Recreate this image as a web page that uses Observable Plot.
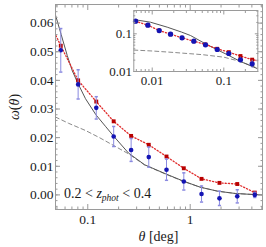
<!DOCTYPE html>
<html><head><meta charset="utf-8">
<script src="https://cdn.jsdelivr.net/npm/d3@7"></script>
<script src="https://cdn.jsdelivr.net/npm/@observablehq/plot@0.6"></script>
<style>
body{margin:0;background:#fff;}
#wrap{position:relative;width:266px;height:247px;overflow:hidden;}
#inset{position:absolute;left:100px;top:0;}
</style></head><body><div id="wrap"><div id="main"></div><div id="inset"></div></div>
<script>
// ---- main panel data ----
const thetaMain = [0.0545, 0.0805, 0.121, 0.179, 0.265, 0.394, 0.587, 0.866, 1.29, 1.93, 2.88, 4.27];
const redMain   = [0.0521, 0.0400, 0.0326, 0.0257, 0.0206, 0.0175, 0.0134, 0.0093, 0.0056, 0.0042, 0.0038, 0.0008];
const blueMain  = [0.0505, 0.0386, 0.0304, 0.0204, 0.0157, 0.0132, 0.0088, 0.0047, 0.0003, -0.0012, -0.0005, 0.0000];
const errMain   = [0.0076, 0.0051, 0.0039, 0.0035, 0.0040, 0.0035, 0.0037, 0.0030, 0.0028, 0.0025, 0.0023, 0.0009];
// red line continues from the previous (smaller-scale) measurement
const redLeadT = [0.0381];
const redLeadW = [0.0637];
const modelT = [0.0484, 0.055, 0.063, 0.0705, 0.08, 0.095, 0.12, 0.15, 0.18, 0.25, 0.36, 0.58, 0.86, 1.25, 1.85, 2.75, 4.3, 5.08];
const modelW = [0.0628, 0.0560, 0.0487, 0.0434, 0.0390, 0.0336, 0.0280, 0.0238, 0.0204, 0.0146, 0.0105, 0.0073, 0.0048, 0.0027, 0.0013, 0.0005, 0.0001, 0.0000];
const twoHaloT = [0.0484, 0.065, 0.095, 0.13, 0.18, 0.251, 0.36, 0.58, 0.86, 1.25, 1.85, 2.75, 4.3, 5.08];
const twoHaloW = [0.0272, 0.0250, 0.0225, 0.0200, 0.0172, 0.0143, 0.0104, 0.0072, 0.0047, 0.0027, 0.0013, 0.0005, 0.0001, 0.0000];
const yTicks = [0, 0.01, 0.02, 0.03, 0.04, 0.05, 0.06];
const yMinor = d3.range(-4, 67, 2).map(v => v / 1000);
const xTicks = [0.1, 1];
const xMinor = [0.05, 0.06, 0.07, 0.08, 0.09, 0.2, 0.3, 0.4, 0.5, 0.6, 0.7, 0.8, 0.9, 2, 3, 4, 5];

// ---- inset data ----
const thetaIn = [0.00585, 0.00869, 0.01253, 0.01803, 0.0261, 0.0381, 0.0555, 0.0809, 0.1175, 0.171, 0.249];
const blueIn  = [0.216, 0.169, 0.122, 0.0976, 0.0783, 0.0637, 0.0511, 0.0383, 0.0300, 0.0204, 0.0160];
const redIn   = [0.216, 0.169, 0.122, 0.0976, 0.0783, 0.0637, 0.0521, 0.0400, 0.0326, 0.0257, 0.0206];
const errIn   = [0.008, 0.006, 0.005, 0.004, 0.0035, 0.0035, 0.0035, 0.0035, 0.0035, 0.0035, 0.0040];
const redTailT = [0.394];
const redTailW = [0.0175];
const modelInT = [0.00553, 0.00946, 0.0162, 0.0257, 0.0343, 0.0555, 0.081, 0.1175, 0.171, 0.2985];
const modelInW = [0.239, 0.203, 0.150, 0.111, 0.090, 0.0543, 0.0377, 0.0266, 0.0184, 0.0118];
const twoHaloInT = [0.00553, 0.01, 0.02, 0.05, 0.1, 0.171, 0.2985];
const twoHaloInW = [0.0370, 0.0350, 0.0320, 0.0280, 0.0240, 0.0184, 0.0122];
const inTicks = [0.01, 0.1];
const inXMinor = [0.006, 0.007, 0.008, 0.009, 0.02, 0.03, 0.04, 0.05, 0.06, 0.07, 0.08, 0.09, 0.2];
const inYMinor = [0.02, 0.03, 0.04, 0.05, 0.06, 0.07, 0.08, 0.09, 0.2, 0.3, 0.4];

const zipTW = (T, W) => T.map((t, i) => ({t, w: W[i]}));
const mainPts = thetaMain.map((t, i) => ({t, r: redMain[i], b: blueMain[i], e: errMain[i]}));
const inPts = thetaIn.map((t, i) => ({t, r: redIn[i], b: blueIn[i], e: errIn[i]}));

const FONT = '"Liberation Serif", "DejaVu Serif", serif';
const RED = "#b80000", REDLINE = "#e02b2b", BLUE = "#1414b4", ERR = "#8a8ae0";
const MODEL = "#555", DASH = "#8a8a8a", FRAME = "#9a9a9a", TXT = "#1a1a1a";
const capSym = {draw(ctx) { ctx.moveTo(-1.6, 0); ctx.lineTo(1.6, 0); }};

function tickAxes(xt, xm, yt, ym, big, small, xfmt, yfmt, xpad, ypad) {
  return [
    Plot.axisY(ym, {anchor: "left", tickSize: -small, fill: "none", stroke: FRAME, label: null}),
    Plot.axisY(ym, {anchor: "right", tickSize: -small, fill: "none", stroke: FRAME, label: null}),
    Plot.axisY(yt, {anchor: "left", tickSize: -big, tickPadding: ypad, tickFormat: yfmt, stroke: FRAME, fill: TXT, label: null}),
    Plot.axisY(yt, {anchor: "right", tickSize: -big, fill: "none", stroke: FRAME, label: null}),
    Plot.axisX(xm, {anchor: "bottom", tickSize: -small, fill: "none", stroke: FRAME, label: null}),
    Plot.axisX(xm, {anchor: "top", tickSize: -small, fill: "none", stroke: FRAME, label: null}),
    Plot.axisX(xt, {anchor: "bottom", tickSize: -big, tickPadding: xpad, tickFormat: xfmt, stroke: FRAME, fill: TXT, label: null}),
    Plot.axisX(xt, {anchor: "top", tickSize: -big, fill: "none", stroke: FRAME, label: null}),
    Plot.frame({stroke: FRAME})
  ];
}

const main = Plot.plot({
  width: 266, height: 247,
  marginLeft: 55, marginRight: 4, marginTop: 4, marginBottom: 38,
  style: {fontFamily: FONT, fontSize: "13.5px", background: "white", color: TXT},
  x: {type: "log", domain: [0.0484, 5.08]},
  y: {domain: [-0.0051, 0.0665]},
  marks: [
    Plot.line(zipTW(twoHaloT, twoHaloW), {x: "t", y: "w", stroke: DASH, strokeWidth: 1, strokeDasharray: "4,3", clip: true}),
    Plot.line(zipTW(modelT, modelW), {x: "t", y: "w", stroke: MODEL, strokeWidth: 1, clip: true}),
    Plot.line(zipTW(redLeadT.concat(thetaMain), redLeadW.concat(redMain)), {x: "t", y: "w", stroke: REDLINE, strokeWidth: 1.3, strokeDasharray: "1.2,2", clip: true}),
    Plot.dot(mainPts, {x: "t", y: "r", symbol: "square", r: 2.2, fill: RED, stroke: "none"}),
    Plot.ruleX(mainPts, {x: "t", y1: d => d.b - d.e, y2: d => d.b + d.e, stroke: ERR, strokeWidth: 1}),
    Plot.dot(mainPts, {x: "t", y: d => d.b - d.e, symbol: capSym, stroke: ERR, fill: "none", r: 2}),
    Plot.dot(mainPts, {x: "t", y: d => d.b + d.e, symbol: capSym, stroke: ERR, fill: "none", r: 2}),
    Plot.dot(mainPts, {x: "t", y: "b", r: 2.3, fill: BLUE, stroke: "none"}),
    ...tickAxes(xTicks, xMinor, yTicks, yMinor, 5, 2.5, d3.format("~g"), d3.format(".2f"), 10, 7)
  ]
});
document.getElementById("main").appendChild(main);

const inset = Plot.plot({
  width: 166, height: 90,
  marginLeft: 33.3, marginRight: 8.7, marginTop: 10, marginBottom: 19,
  style: {fontFamily: FONT, fontSize: "13px", background: "transparent", color: TXT, overflow: "visible"},
  x: {type: "log", domain: [0.00553, 0.2985]},
  y: {type: "log", domain: [0.01, 0.415]},
  marks: [
    Plot.frame({fill: "white", stroke: "none"}),
    Plot.line(zipTW(twoHaloInT, twoHaloInW), {x: "t", y: "w", stroke: DASH, strokeWidth: 1, strokeDasharray: "4,3", clip: true}),
    Plot.line(zipTW(modelInT, modelInW), {x: "t", y: "w", stroke: MODEL, strokeWidth: 1, clip: true}),
    Plot.line(zipTW(thetaIn.concat(redTailT), redIn.concat(redTailW)), {x: "t", y: "w", stroke: REDLINE, strokeWidth: 1.3, strokeDasharray: "1.2,2", clip: true}),
    Plot.dot(inPts, {x: "t", y: "r", symbol: "square", r: 2.2, fill: RED, stroke: "none"}),
    Plot.ruleX(inPts, {x: "t", y1: d => d.b - d.e, y2: d => d.b + d.e, stroke: ERR, strokeWidth: 1}),
    Plot.dot(inPts, {x: "t", y: "b", r: 2.6, fill: BLUE, stroke: "none"}),
    ...tickAxes(inTicks, inXMinor, inTicks, inYMinor, 3.5, 2, d3.format("~g"), d3.format("~g"), 7.5, 5.2)
  ]
});
document.getElementById("inset").appendChild(inset);

// ---- text with mixed styles ----
const svg = d3.select(main);
const yl = svg.append("text")
  .attr("transform", "translate(16,107) rotate(-90)")
  .attr("text-anchor", "middle").attr("dominant-baseline", "middle")
  .attr("font-family", FONT).attr("font-size", 14).attr("fill", TXT);
yl.append("tspan").attr("font-style", "italic").text("ω");
yl.append("tspan").text("(");
yl.append("tspan").attr("font-style", "italic").text("θ");
yl.append("tspan").text(")");

const xl = svg.append("text")
  .attr("x", 158.5).attr("y", 241).attr("text-anchor", "middle")
  .attr("font-family", FONT).attr("font-size", 14).attr("fill", TXT);
xl.append("tspan").attr("font-style", "italic").text("θ");
xl.append("tspan").text(" [deg]");

const an = svg.append("text")
  .attr("x", 64).attr("y", 198).attr("text-anchor", "start")
  .attr("font-family", FONT).attr("font-size", 14).attr("fill", TXT);
an.append("tspan").text("0.2 < ");
an.append("tspan").attr("font-style", "italic").text("z");
an.append("tspan").attr("font-style", "italic").attr("font-size", 9.5).attr("dy", 3).text("phot");
an.append("tspan").attr("dy", -3).text(" < 0.4");
</script></body></html>
